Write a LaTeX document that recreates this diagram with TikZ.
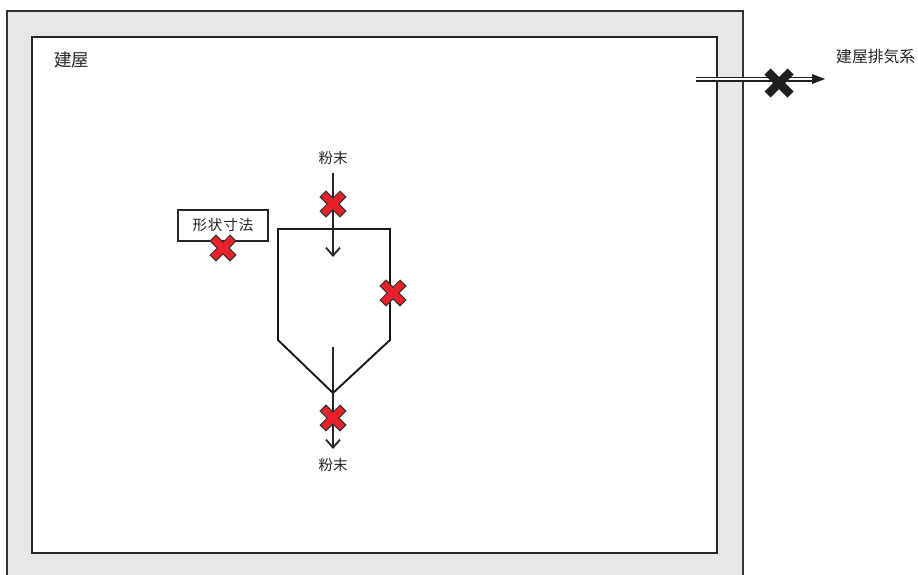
\documentclass[tikz,border=0pt]{standalone}
\usepackage{fontspec}
\setmainfont{Noto Sans CJK JP}
\usetikzlibrary{arrows.meta}
\definecolor{wallgray}{HTML}{E6E7E6}
\definecolor{xred}{HTML}{E8202A}
\tikzset{
  lbl/.style={inner sep=0pt, font=\fontsize{14.5}{16}\selectfont, text=black!85},
  biglbl/.style={inner sep=0pt, font=\fontsize{17.5}{19}\selectfont, text=black!85},
  flow/.style={line width=2.2pt, draw=black!85, -{Straight Barb[length=8pt,width=14pt,line width=1.8pt]}},
  vessel/.style={line width=1.9pt, draw=black!90},
  redx/.pic={
    \draw[line width=9.2pt, black!80] (-10.3,-10.3) -- (10.3,10.3) (-10.3,10.3) -- (10.3,-10.3);
    \draw[line width=7pt, xred] (-9.4,-9.4) -- (9.4,9.4) (-9.4,9.4) -- (9.4,-9.4);
  },
  blackx/.pic={
    \draw[line width=8.5pt, black!88] (-11.5,-11.5) -- (11.5,11.5) (-11.5,11.5) -- (11.5,-11.5);
  }
}
\begin{document}
\begin{tikzpicture}[x=1pt,y=-1pt]
\useasboundingbox (0,0) rectangle (918,574);
% walls
\node[draw=black!80, line width=2.2pt, fill=wallgray, minimum width=736pt, minimum height=574pt, inner sep=0pt, anchor=north west] (outer) at (6,10) {};
\node[draw=black!85, line width=2.2pt, fill=white, minimum width=685pt, minimum height=516pt, inner sep=0pt, anchor=north west] (inner) at (31,36) {};
\node[biglbl, anchor=west] (bldg) at (54,60) {建屋};
% vessel
\coordinate (tl) at (278,229);
\coordinate (tr) at (390,229);
\coordinate (rm) at (390,340);
\coordinate (apex) at (333,393);
\coordinate (lm) at (278,340);
\draw[vessel] (lm) -- (tl) -- (tr) -- (rm) -- (apex) -- cycle;
% inlet
\node[lbl] (pin) at (333,158) {粉末};
\coordinate (inS) at (333,173);
\coordinate (inE) at (333,257);
\draw[flow] (inS) -- (inE);
% outlet
\coordinate (outS) at (333,347);
\coordinate (outE) at (333,449);
\draw[flow] (outS) -- (outE);
\node[lbl] (pout) at (333,465) {粉末};
% shape dimension box
\node[draw=black!85, line width=1.6pt, minimum width=90pt, minimum height=31pt, inner sep=0pt, font=\fontsize{14.5}{16}\selectfont, text=black!85] (dim) at (223,225.5) {形\kern1pt 状\kern1pt 寸\kern1pt 法};
% exhaust
\coordinate (exS) at (696,79);
\coordinate (exE) at (813,79);
\coordinate (exT) at (825,79);
\draw[line width=1.3pt, double=white, double distance=2.4pt, black!88] (exS) -- (exE);
\fill[black!88] (exT) -- (812,74) -- (812,84) -- cycle;
\node[inner sep=0pt, font=\fontsize{15.8}{17}\selectfont, text=black!85, anchor=west] (exh) at (836,57) {建屋排気系};
% markers
\pic at (333,204) {redx};
\pic at (393,293) {redx};
\pic at (333,418) {redx};
\pic at (223,248) {redx};
\pic at (779,83) {blackx};
\end{tikzpicture}
\end{document}
